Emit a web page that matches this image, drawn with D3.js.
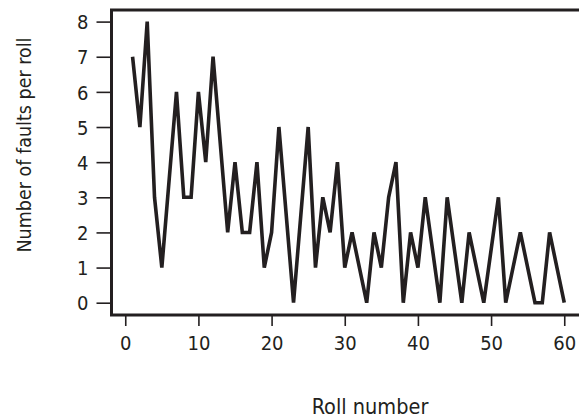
<!DOCTYPE html>
<html>
<head>
<meta charset="utf-8">
<script src="https://cdn.jsdelivr.net/npm/d3@7"></script>
<style>
  html, body { margin: 0; padding: 0; background: #fff; }
  svg { display: block; }
  .axis text { font-family: "DejaVu Sans Condensed", "DejaVu Sans", sans-serif; font-size: 20px; fill: #231f20; }
  .axis line { stroke: #231f20; stroke-width: 1.6px; }
  .label { font-family: "DejaVu Sans Condensed", "DejaVu Sans", sans-serif; font-size: 20px; fill: #231f20; }
</style>
</head>
<body>
<svg class="chart" width="579" height="419"></svg>
<script>
var rolls  = [1, 2, 3, 4, 5, 7, 8, 9, 10, 11, 12, 14, 15, 16, 17, 18, 19, 20, 21, 23,
              25, 26, 27, 28, 29, 30, 31, 33, 34, 35, 36, 37, 38, 39, 40, 41, 43, 44, 46, 47,
              49, 51, 52, 54, 56, 57, 58, 60];
var faults = [7, 5, 8, 3, 1, 6, 3, 3, 6, 4, 7, 2, 4, 2, 2, 4, 1, 2, 5, 0,
              5, 1, 3, 2, 4, 1, 2, 0, 2, 1, 3, 4, 0, 2, 1, 3, 0, 3, 0, 2,
              0, 3, 0, 2, 0, 0, 2, 0];
var xTicks = [0, 10, 20, 30, 40, 50, 60];
var yTicks = [0, 1, 2, 3, 4, 5, 6, 7, 8];

var data = rolls.map(function(r, i) { return { roll: r, val: faults[i] }; });

var svg = d3.select("svg.chart"),
    frame = { left: 111.5, top: 10, right: 584, bottom: 315 };

var x = d3.scaleLinear().domain([-1.88, 62.7]).range([frame.left, frame.right]);
var y = d3.scaleLinear().domain([-0.35, 8.33]).range([frame.bottom, frame.top]);

// y axis
var gy = svg.append("g")
  .attr("class", "axis")
  .attr("transform", "translate(" + frame.left + ",0)")
  .call(d3.axisLeft(y).tickValues(yTicks).tickSize(15).tickPadding(8).tickFormat(d3.format("d")));
gy.select(".domain").remove();
gy.selectAll("text").attr("dy", "0.36em");

// x axis
var gx = svg.append("g")
  .attr("class", "axis")
  .attr("transform", "translate(0," + frame.bottom + ")")
  .call(d3.axisBottom(x).tickValues(xTicks).tickSize(11).tickPadding(10).tickFormat(d3.format("d")));
gx.select(".domain").remove();

// the data line
var line = d3.line()
  .x(function(d) { return x(d.roll); })
  .y(function(d) { return y(d.val); });

svg.append("path")
  .datum(data)
  .attr("d", line)
  .style("fill", "none")
  .style("stroke", "#231f20")
  .style("stroke-width", "3.6px")
  .style("stroke-linejoin", "miter")
  .style("stroke-miterlimit", 3);

// box round the plot
svg.append("rect")
  .attr("x", frame.left)
  .attr("y", frame.top)
  .attr("width", frame.right - frame.left)
  .attr("height", frame.bottom - frame.top)
  .style("fill", "none")
  .style("stroke", "#231f20")
  .style("stroke-width", "3px");

// axis titles
svg.append("text")
  .attr("class", "label")
  .attr("x", 370)
  .attr("y", 414)
  .attr("text-anchor", "middle")
  .style("font-size", "21.5px")
  .text("Roll number");

svg.append("text")
  .attr("class", "label")
  .attr("transform", "translate(31,145) rotate(-90)")
  .attr("text-anchor", "middle")
  .style("font-size", "19.5px")
  .text("Number of faults per roll");
</script>
</body>
</html>
